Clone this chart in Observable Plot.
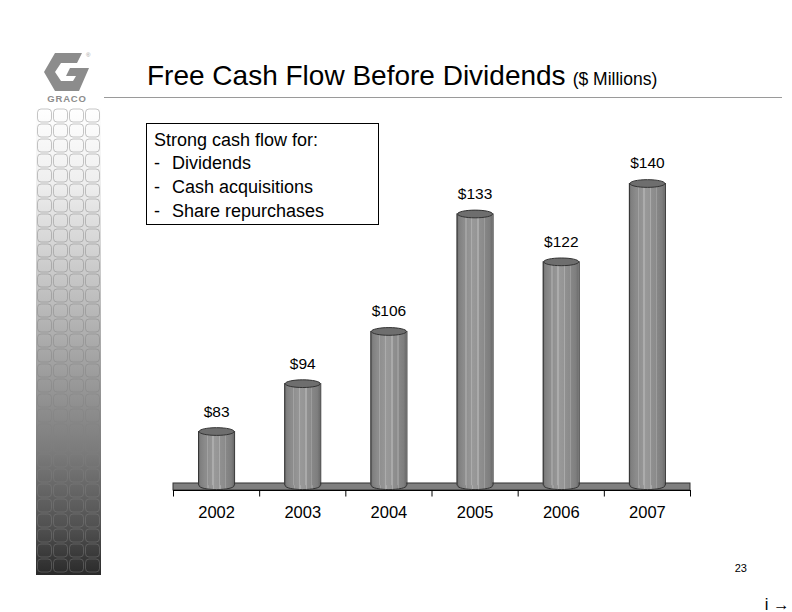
<!DOCTYPE html>
<html>
<head>
<meta charset="utf-8">
<script src="https://cdn.jsdelivr.net/npm/d3@7"></script>
<script src="https://cdn.jsdelivr.net/npm/@observablehq/plot@0.6"></script>
<style>
  html, body { margin: 0; padding: 0; background: #fff; overflow: hidden; }
  #page { position: relative; width: 792px; height: 612px; overflow: hidden; font-family: "Liberation Sans", Arial, sans-serif; }
  #deco, #chart { position: absolute; left: 0; top: 0; }
</style>
</head>
<body>
<div id="page">
  <svg id="deco" width="792" height="612"></svg>
  <div id="chart"></div>
</div>
<script>
// ---- data ----
const years = ["2002", "2003", "2004", "2005", "2006", "2007"];
const values = [83, 94, 106, 133, 122, 140];
const valueLabels = ["$83", "$94", "$106", "$133", "$122", "$140"];
const boxLines = ["Strong cash flow for:", "Dividends", "Cash acquisitions", "Share repurchases"];
const titleText = "Free Cash Flow Before Dividends";
const subtitleText = "($ Millions)";
const pageNumber = "23";

const FONT = '"Liberation Sans", Arial, sans-serif';

// ---- decorations (slide frame) ----
const deco = d3.select("#deco");
const defs = deco.append("defs");
const sg = defs.append("linearGradient").attr("id", "side").attr("x1", 0).attr("y1", 0).attr("x2", 0).attr("y2", 1);
[[0, "#ffffff"], [0.16, "#efefef"], [0.37, "#c6c6c6"], [0.74, "#7a7a7a"], [0.9, "#505050"], [1, "#2a2a2a"]]
  .forEach(([o, c]) => sg.append("stop").attr("offset", o).attr("stop-color", c));
deco.append("rect").attr("x", 36).attr("y", 107).attr("width", 65).attr("height", 468).attr("fill", "url(#side)");
for (let r = 0; r < 31; r++) {
  for (let c = 0; c < 4; c++) {
    deco.append("rect")
      .attr("x", 37.5 + c * 16).attr("y", 109 + r * 15)
      .attr("width", 14).attr("height", 13).attr("rx", 3.5)
      .attr("fill", "none").attr("stroke", "rgba(128,128,128,0.45)").attr("stroke-width", 1);
  }
}
// logo
deco.append("path")
  .attr("d", "M55,53 L82,53 L77,63 L61,63 L55,72 L61,81 L73,81 L76,76 L66,76 L70,68 L89,68 L79,91 L55,91 L44,72 Z")
  .attr("fill", "#8c8c8c");
deco.append("text").attr("x", 86).attr("y", 57).attr("font-size", 6).attr("fill", "#999").attr("font-family", FONT).text("®");
deco.append("text").attr("x", 67).attr("y", 102).attr("text-anchor", "middle")
  .attr("font-size", 9.5).attr("font-weight", "bold").attr("letter-spacing", 0.8)
  .attr("fill", "#8c8c8c").attr("font-family", FONT).text("GRACO");
// title
const t = deco.append("text").attr("x", 147).attr("y", 85).attr("font-family", FONT).attr("fill", "#000");
t.append("tspan").attr("font-size", 28).text(titleText);
t.append("tspan").attr("font-size", 17.5).attr("dx", 7).text(subtitleText);
deco.append("line").attr("x1", 104).attr("x2", 782).attr("y1", 97.5).attr("y2", 97.5).attr("stroke", "#9a9a9a").attr("stroke-width", 1);
// text box
deco.append("rect").attr("x", 146.5).attr("y", 123.5).attr("width", 232).attr("height", 101)
  .attr("fill", "#fff").attr("stroke", "#000").attr("stroke-width", 1);
const baselines = [145.5, 169, 193, 216.5];
boxLines.forEach((s, i) => {
  if (i === 0) {
    deco.append("text").attr("x", 154).attr("y", baselines[i]).attr("font-size", 18).attr("font-family", FONT).text(s);
  } else {
    deco.append("text").attr("x", 154).attr("y", baselines[i]).attr("font-size", 18).attr("font-family", FONT).text("-");
    deco.append("text").attr("x", 172).attr("y", baselines[i]).attr("font-size", 18).attr("font-family", FONT).text(s);
  }
});
deco.append("text").attr("x", 747).attr("y", 572).attr("text-anchor", "end").attr("font-size", 11).attr("font-family", FONT).text(pageNumber);

// ---- chart ----
const data = years.map((year, i) => ({ i, year, value: values[i], label: valueLabels[i] }));
const HALF = 0.209;          // half bar width in band units
const AXIS = 69.45;          // value at axis line
const TICK_END = 67.95;      // separator tick end
const SLAB_TOP = 71.06;      // floor slab top
const BAR_BASE = 70.55;      // bottom ellipse center

const K = 0.5523;
const ellipse = {
  draw(context, size) {
    const rx = Math.sqrt(size / Math.PI), ry = rx * 0.22;
    context.moveTo(rx, 0);
    context.bezierCurveTo(rx, K * ry, K * rx, ry, 0, ry);
    context.bezierCurveTo(-K * rx, ry, -rx, K * ry, -rx, 0);
    context.bezierCurveTo(-rx, -K * ry, -K * rx, -ry, 0, -ry);
    context.bezierCurveTo(K * rx, -ry, rx, -K * ry, rx, 0);
    context.closePath();
  }
};

const plot = Plot.plot({
  width: 792,
  height: 612,
  marginTop: 139.5,
  marginBottom: 124.4,
  marginLeft: 173,
  marginRight: 102,
  style: { background: "transparent", fontFamily: FONT, color: "#000" },
  x: { type: "linear", domain: [-0.5, 5.5] },
  y: { domain: [70, 150], axis: null },
  marks: [
    // floor slab
    Plot.rect([0], { x1: () => -0.5, x2: () => 5.5, y1: () => AXIS, y2: () => SLAB_TOP, fill: "#7f7f7f", stroke: "#333", strokeWidth: 1 }),
    // axis line + separators
    Plot.ruleY([0], { y: () => AXIS, x1: () => -0.5, x2: () => 5.5, stroke: "#000", strokeWidth: 1 }),
    Plot.ruleX(d3.range(years.length + 1), { x: d => d - 0.5, y1: () => AXIS, y2: () => TICK_END, stroke: "#000", strokeWidth: 1 }),
    // cylinder bottoms
    Plot.dot(data, { x: "i", y: () => BAR_BASE, r: 17.5, symbol: ellipse, fill: "url(#cyl)", stroke: "#333", strokeWidth: 1 }),
    // cylinder bodies
    Plot.rect(data, { x1: d => d.i - HALF, x2: d => d.i + HALF, y1: () => BAR_BASE, y2: "value", fill: "url(#cyl)" }),
    Plot.ruleX(data, { x: d => d.i - HALF, y1: () => BAR_BASE, y2: "value", stroke: "#333", strokeWidth: 1 }),
    Plot.ruleX(data, { x: d => d.i + HALF, y1: () => BAR_BASE, y2: "value", stroke: "#333", strokeWidth: 1 }),
    // cylinder tops
    Plot.dot(data, { x: "i", y: "value", r: 17.5, symbol: ellipse, fill: "#6e6e6e", stroke: "#333", strokeWidth: 1 }),
    // value labels
    Plot.text(data, { x: "i", y: "value", text: "label", dy: -20, fontSize: 15.5, fill: "#000" }),
    // year labels
    Plot.axisX({ ticks: d3.range(years.length), tickFormat: i => years[i], tickSize: 0, tickPadding: 18, fontSize: 16.5, fill: "#000" })
  ]
});

const svg = d3.select(plot);
const cd = svg.insert("defs", ":first-child");
const g = cd.append("linearGradient").attr("id", "cyl").attr("x1", 0).attr("y1", 0).attr("x2", 1).attr("y2", 0);
[
  [0, "#6a6a6a"], [0.07, "#808080"], [0.2, "#8c8c8c"], [0.24, "#8c8c8c"], [0.24, "#a2a2a2"], [0.28, "#a2a2a2"], [0.28, "#909090"],
  [0.4, "#969696"], [0.4, "#acacac"], [0.44, "#acacac"], [0.44, "#999999"], [0.58, "#959595"], [0.58, "#aaaaaa"], [0.62, "#aaaaaa"],
  [0.62, "#909090"], [0.75, "#8b8b8b"], [0.75, "#9c9c9c"], [0.78, "#9c9c9c"], [0.78, "#878787"], [0.92, "#7e7e7e"], [1, "#6a6a6a"]
].forEach(([o, c]) => g.append("stop").attr("offset", o).attr("stop-color", c));

document.getElementById("chart").appendChild(plot);
</script>
</body>
</html>
